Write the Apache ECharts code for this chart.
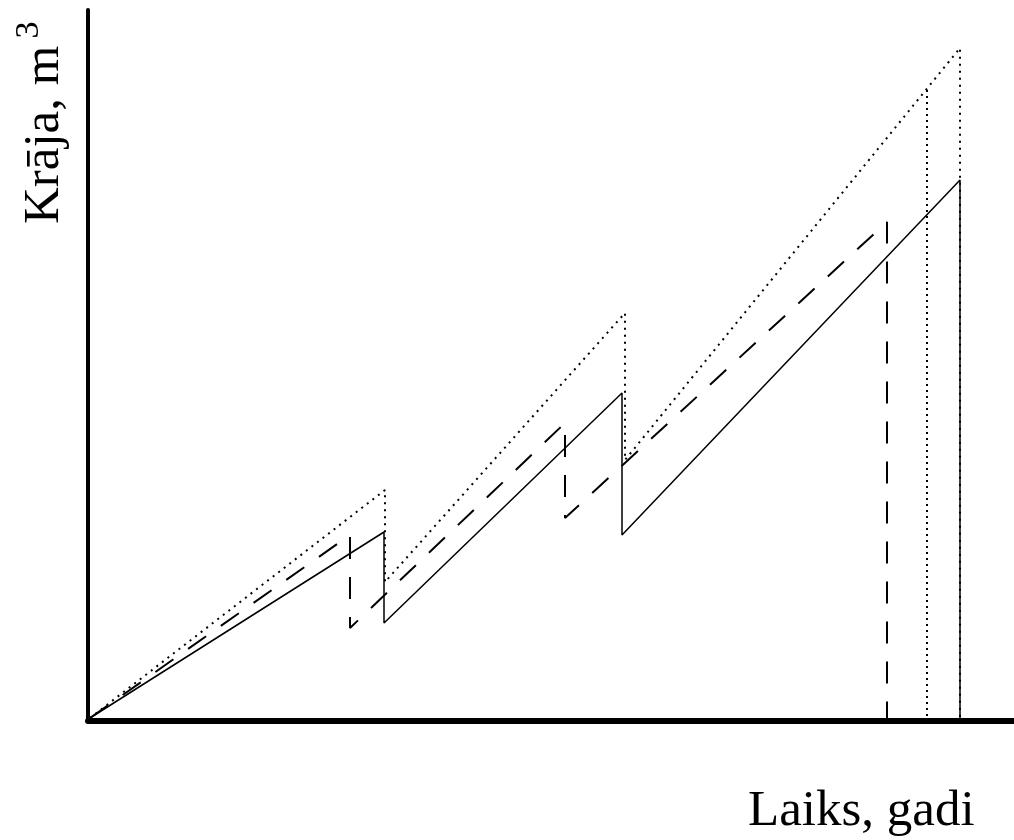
<!DOCTYPE html>
<html>
<head>
<meta charset="utf-8">
<script src="https://cdn.jsdelivr.net/npm/echarts@6/dist/echarts.min.js"></script>
<style>
html,body{margin:0;padding:0;background:#fff;}
#chart{width:1014px;height:840px;}
</style>
</head>
<body>
<div id="chart"></div>
<script>
// Time (years, arbitrary units) and stock (m3, arbitrary units)
var solidX  = [0, 29.4, 29.4, 53.2, 53.2, 87.0, 87.0];
var solidY  = [0, 18.6,  9.5, 32.5, 18.3, 53.8,  0];
var dashedX = [0, 26.0, 26.0, 47.5, 47.5, 79.7, 79.7];
var dashedY = [0, 18.3,  9.0, 29.5, 20.0, 49.6,  0];
var dottedX = [0, 29.5, 29.5, 53.5, 53.5, 87.0, 87.0];
var dottedY = [0, 22.8, 13.6, 40.5, 25.8, 67.0,  0];
var markX   = [83.7, 83.7];
var markY   = [62.8, 0];

var xName = 'Laiks, gadi';
var yName = 'Krāja, m';
var ySup  = '3';

function pairs(xs, ys){ return xs.map(function(x,i){ return [x, ys[i]]; }); }

var chart = echarts.init(document.getElementById('chart'));
var FONT = '"Liberation Serif", "Times New Roman", serif';
chart.setOption({
  animation: false,
  backgroundColor: '#ffffff',
  grid: {left: 88, right: 0, top: 10, bottom: 119},
  xAxis: {
    type: 'value', min: -0.2, max: 92.4,
    axisLine: {show: true, onZero: false, lineStyle: {color: '#000', width: 6}},
    axisTick: {show: false}, axisLabel: {show: false}, splitLine: {show: false}
  },
  yAxis: {
    type: 'value', min: -0.3, max: 70.8,
    axisLine: {show: true, onZero: false, lineStyle: {color: '#000', width: 4}},
    axisTick: {show: false}, axisLabel: {show: false}, splitLine: {show: false}
  },
  series: [
    {type: 'line', data: pairs(dottedX, dottedY), showSymbol: false, z: 2,
     lineStyle: {color: '#000', width: 2, type: [2, 5]}},
    {type: 'line', data: pairs(markX, markY), showSymbol: false, z: 2,
     lineStyle: {color: '#000', width: 2, type: [2, 4]}},
    {type: 'line', data: pairs(dashedX, dashedY), showSymbol: false, z: 3,
     lineStyle: {color: '#000', width: 2, type: [22, 18]}},
    {type: 'line', data: pairs(solidX, solidY), showSymbol: false, z: 4,
     lineStyle: {color: '#000', width: 1.5}}
  ],
  graphic: [
    {type: 'text', x: 748, y: 812, style: {text: xName, font: '51px ' + FONT, fill: '#000', textAlign: 'left', textVerticalAlign: 'middle'}},
    {type: 'text', x: 45, y: 224, rotation: Math.PI / 2, style: {text: yName, font: '51px ' + FONT, fill: '#000', textAlign: 'left', textVerticalAlign: 'middle'}},
    {type: 'text', x: 29, y: 30, rotation: Math.PI / 2, style: {text: ySup, font: '34px ' + FONT, fill: '#000', textAlign: 'center', textVerticalAlign: 'middle'}}
  ]
});
</script>
</body>
</html>
